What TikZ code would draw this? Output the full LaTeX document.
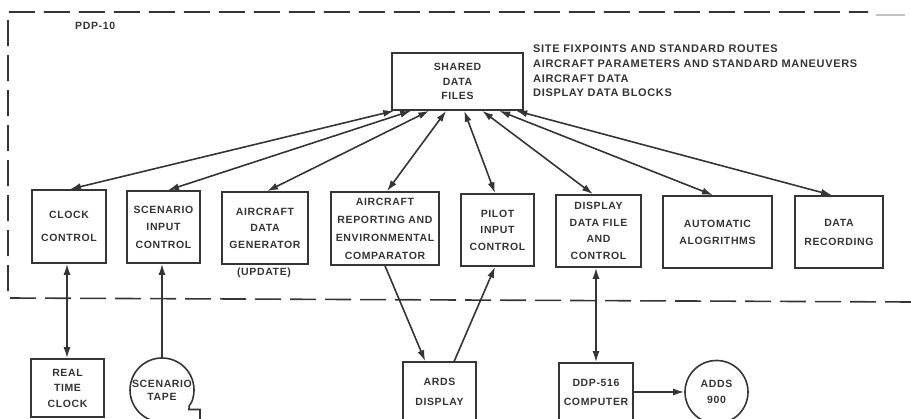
\documentclass[tikz,border=0pt]{standalone}
\usepackage{fontspec}
\newfontfamily\lettering[LetterSpace=6]{Liberation Sans}
\usetikzlibrary{arrows.meta,calc}
\definecolor{ink}{HTML}{353535}
\newcommand{\lett}[1]{\fontsize{10.5}{#1}\selectfont\lettering\bfseries}
\begin{document}
\begin{tikzpicture}[x=1pt,y=-1pt,
  txt/.style={text=ink, font=\lett{16.5}, align=center, inner sep=0pt},
  blk/.style={txt, draw=ink, line width=1.6pt},
  line/.style={draw=ink, line width=1.6pt},
  dbl/.style={line, arrows={Latex[length=11pt,width=7pt]-Latex[length=11pt,width=7pt]}},
  single/.style={line, arrows={-Latex[length=11pt,width=7pt]}},
  frame/.style={draw=ink, line width=1.6pt, dash pattern=on 26pt off 9pt}]
\useasboundingbox (0,0) rectangle (911,419);

% machine boundary
\draw[frame] (911,302) -- (8,298) -- (8,12) -- (868,12);
\draw[ink!30, line width=1.6pt] (876,15) -- (905,15);
\node[txt, anchor=west] (pdp) at (75,26) {PDP-10};

% shared files and their contents
\node[blk, minimum width=131pt, minimum height=57pt, font=\lett{14.5}] (shared) at (457.5,81.5) {SHARED\\DATA\\FILES};
\node[txt, anchor=west, align=left, font=\fontsize{11}{14.8}\selectfont\lettering\bfseries] (notes) at (533,71)
  {SITE FIXPOINTS AND STANDARD ROUTES\\AIRCRAFT PARAMETERS AND STANDARD MANEUVERS\\AIRCRAFT DATA\\DISPLAY DATA BLOCKS};

% program modules
\node[blk, minimum width=74pt, minimum height=73pt] (clock) at (69,226.5) {CLOCK\\[6.5pt]CONTROL};
\node[blk, minimum width=73pt, minimum height=72pt, font=\lett{17.5}] (scen) at (163.5,227) {SCENARIO\\INPUT\\CONTROL};
\node[blk, minimum width=86pt, minimum height=72pt] (acgen) at (265,228) {AIRCRAFT\\DATA\\GENERATOR};
\node[txt] (upd) at (264,272.5) {(UPDATE)};
\node[blk, minimum width=108pt, minimum height=73pt, font=\lett{18}] (report) at (385,228.5) {AIRCRAFT\\REPORTING AND\\ENVIRONMENTAL\\COMPARATOR};
\node[blk, minimum width=73pt, minimum height=72pt] (pilot) at (497.5,230) {PILOT\\INPUT\\CONTROL};
\node[blk, minimum width=85pt, minimum height=72pt] (dispfile) at (598.5,231) {DISPLAY\\DATA FILE\\AND\\CONTROL};
\node[blk, minimum width=109pt, minimum height=72pt, font=\lett{17}] (auto) at (717.5,232) {AUTOMATIC\\ALOGRITHMS};
\node[blk, minimum width=88pt, minimum height=72pt, font=\lett{19}] (record) at (839,232) {DATA\\RECORDING};

% external devices
\node[blk, minimum width=73pt, minimum height=58pt, font=\lett{15.5}] (rtc) at (67.5,388) {REAL\\TIME\\CLOCK};
\node[txt, circle, minimum size=64pt, font=\lett{13}] (tape) at (162,390) {SCENARIO\\TAPE};
\draw[line] ($(tape.center)+(22:32)$) arc[start angle=22, end angle=-270, radius=32];
\draw[line] ($(tape.center)+(22:32)$) .. controls (190,405) and (187.5,407) .. (189,409.5) -- (200,409.5) -- (200,425);
\node[blk, minimum width=73pt, minimum height=59pt, font=\lett{20}] (ards) at (439.5,391.5) {ARDS\\DISPLAY};
\node[blk, minimum width=74pt, minimum height=58pt, font=\lett{19}] (ddp) at (596,392) {DDP-516\\COMPUTER};
\node[blk, circle, minimum size=63pt, font=\lett{16}] (adds) at (716.5,392) {ADDS\\900};

% data paths to the shared files
\draw[dbl] ([xshift=3pt]shared.south west) -- ([xshift=1pt]clock.north);
\draw[dbl] ([xshift=20pt]shared.south west) -- ([xshift=4.5pt]scen.north);
\draw[dbl] ([xshift=38pt]shared.south west) -- ([xshift=2pt]acgen.north);
\draw[dbl] ([xshift=55pt]shared.south west) -- ([xshift=2pt]report.north);
\draw[dbl] ([xshift=73pt]shared.south west) -- ([xshift=-2.5pt]pilot.north);
\draw[dbl] ([xshift=91pt]shared.south west) -- ([xshift=-5.5pt]dispfile.north);
\draw[dbl] ([xshift=108pt]shared.south west) -- ([xshift=-4.5pt]auto.north);
\draw[dbl] ([xshift=125pt]shared.south west) -- ([xshift=-7pt]record.north);

% links to the outside
\draw[dbl] ([xshift=-2pt]clock.south) -- ([xshift=-2pt]clock.south |- rtc.north);
\draw[single] ([yshift=32pt]tape.center) -- ([xshift=-1.5pt]scen.south);
\draw[single] (report.south) -- ([xshift=23pt]ards.north west);
\draw[single] ([xshift=52pt]ards.north west) -- ([xshift=-2.5pt]pilot.south);
\draw[dbl] ([xshift=-2.5pt]dispfile.south) -- ([xshift=-2.5pt]dispfile.south |- ddp.north);
\draw[single] (ddp.east) -- (adds.west);
\end{tikzpicture}
\end{document}
